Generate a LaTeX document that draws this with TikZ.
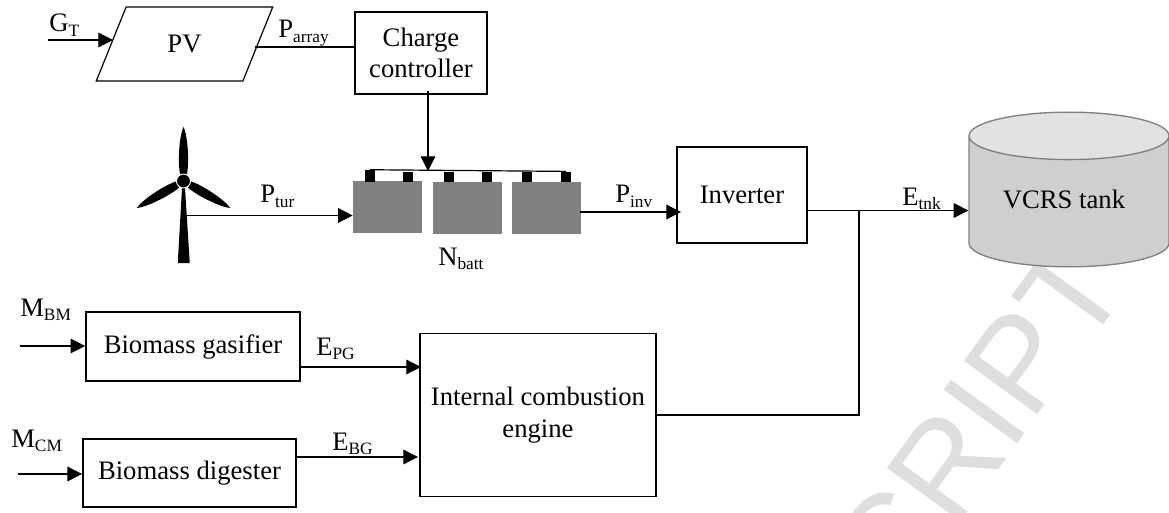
\documentclass[tikz,border=0pt]{standalone}
\usepackage{fontspec}
\setmainfont{Liberation Serif}
\newfontfamily\wmfont{Liberation Sans}
\usetikzlibrary{arrows.meta,calc,positioning,shapes.geometric}
\newcommand{\sbs}[1]{\raisebox{-3.4pt}{\fontsize{13}{13}\selectfont #1}}

\begin{document}
\begin{tikzpicture}[
    x=0.75pt, y=-0.75pt,
    font=\fontsize{20}{23.5}\selectfont,
    blk/.style={draw, line width=1.2pt, align=center, inner sep=0pt},
    txt/.style={align=center, inner sep=0pt},
    lbl/.style={anchor=base west, inner sep=0pt},
    batt/.style={fill={rgb,255:red,128;green,128;blue,128}, inner sep=0pt, minimum width=51.75pt, minimum height=39pt},
    term/.style={fill=black, inner sep=0pt, minimum width=7.5pt, minimum height=8pt},
    ln/.style={line width=0.9pt},
    arr/.style={ln, -{Triangle[length=11pt, width=11pt]}},
  ]
    \useasboundingbox (0,0) rectangle (1169,513);
    \clip (0,0) rectangle (1169,513);

    % Watermark
    \node[anchor=base east, rotate=54, inner sep=0pt, text={rgb,255:red,222;green,222;blue,222},
      font=\wmfont\fontsize{99}{99}\selectfont] (mark) at (1131,287) {CRIPT};

    % Top row
    \node[trapezium, draw, line width=0.9pt, trapezium left angle=64, trapezium right angle=116,
      trapezium stretches=true, minimum width=132.75pt, minimum height=55.5pt, inner sep=0pt] (pv) at (184.5,44) {PV};
    \node[blk, minimum width=99pt, minimum height=61.5pt] (charge) at (421,53) {Charge\\controller};

    % Wind turbine
    \foreach \a in {0,120,240} {
      \fill[rotate around={\a:(183.5,181)}] (180,174) .. controls (177.5,160) and (179.5,135) .. (183.5,127)
        .. controls (187.5,135) and (189.5,160) .. (187,174) -- cycle;
    }
    \fill (182,188) -- (185,188) -- (189.5,259) -- (189.5,263) -- (178,263) -- (178,259) -- cycle;
    \node[circle, fill=black, draw=white, line width=0.7pt, minimum size=10.5pt, inner sep=0pt] (hub) at (183.5,181) {};
    \coordinate (turb) at (186,215.5);

    % Batteries
    \node[batt] (batta) at (387.5,207) {};
    \node[batt, right=7.5pt of batta, yshift=-0.75pt] (battb) {};
    \node[batt, right=7.5pt of battb] (battc) {};
    \node[term, minimum height=9pt] (ta) at (370,176) {};
    \node[term] (tb) at (408,177) {};
    \node[term] (tc) at (449,177) {};
    \node[term] (td) at (487,177) {};
    \node[term] (te) at (527,177) {};
    \node[term] (tf) at (566,177) {};
    \draw[ln] (ta.north) -- (tf.north);

    % Right side
    \node[blk, minimum width=97.5pt, minimum height=72pt] (inv) at (742,195) {Inverter};
    \node[cylinder, anchor=shape center, draw={rgb,255:red,127;green,127;blue,127}, line width=1pt, shape border rotate=90, aspect=0.388,
      cylinder uses custom fill, cylinder body fill={rgb,255:red,208;green,206;blue,206},
      cylinder end fill={rgb,255:red,226;green,226;blue,226},
      minimum width=150pt, minimum height=116pt, inner sep=0pt] (tank) at (1069,189.5) {\phantom{VCRS tank}};
    \node[txt] (tanktxt) at (1064,199) {VCRS tank};

    % Bottom row
    \node[blk, minimum width=160.5pt, minimum height=51.5pt] (gasifier) at (193,346.5) {Biomass gasifier};
    \node[blk, minimum width=160pt, minimum height=51pt] (digester) at (189.5,473) {Biomass digester};
    \node[blk, minimum width=177pt, minimum height=122pt] (engine) at (538,415) {Internal combustion\\engine};

    % Free ends
    \coordinate (gin) at (48,40);
    \coordinate (gout) at (113,40);
    \coordinate (pvout) at (255,47);
    \coordinate (chargeout) at (428,91);
    \coordinate (battin) at (428,171);
    \coordinate (battout) at (580,212);
    \coordinate (invin) at (681,212);
    \coordinate (invout) at (807,210.5);
    \coordinate (junc) at (859,210.5);
    \coordinate (bmin) at (20,346);
    \coordinate (cmin) at (18,474);
    \coordinate (pgout) at (300,367);
    \coordinate (pgin) at (421,367);
    \coordinate (bgout) at (297,457);
    \coordinate (bgin) at (418,457);

    % Arrows
    \draw[arr] (gin) -- (gout);
    \draw[ln] (pvout) -- (charge.west |- pvout);
    \draw[arr] (chargeout) -- (battin);
    \draw[arr] (turb) -- (batta.west |- turb);
    \draw[arr] (battout) -- (invin);
    \draw[arr] (invout) -- (tank.west |- invout);
    \draw[ln] (engine.east) -| (junc);
    \draw[arr] (bmin) -- (gasifier.west |- bmin);
    \draw[arr] (cmin) -- (digester.west |- cmin);
    \draw[arr] (pgout) -- (pgin);
    \draw[arr] (bgout) -- (bgin);

    % Labels
    \node[lbl] (gt) at (49,32) {G\sbs{T}};
    \node[lbl] (parray) at (278,38) {P\sbs{array}};
    \node[lbl] (ptur) at (260,203) {P\sbs{tur}};
    \node[lbl] (nbatt) at (438,265) {N\sbs{batt}};
    \node[lbl] (pinv) at (615,203) {P\sbs{inv}};
    \node[lbl] (etnk) at (902,205) {E\sbs{tnk}};
    \node[lbl] (mbm) at (20,316) {M\sbs{BM}};
    \node[lbl] (mcm) at (11,447) {M\sbs{CM}};
    \node[lbl] (epg) at (316,355) {E\sbs{PG}};
    \node[lbl] (ebg) at (332,450) {E\sbs{BG}};
\end{tikzpicture}
\end{document}
